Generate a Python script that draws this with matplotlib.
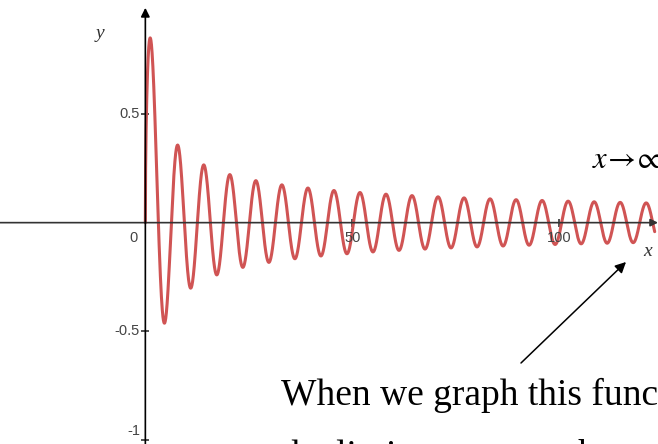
import numpy as np
import matplotlib
matplotlib.use("Agg")
import matplotlib.pyplot as plt

# curve: y = sin(x) / sqrt(x), decaying oscillation
x_start, x_end = 0.0, 123.0
y_ticks = [0.5, -0.5, -1]
y_tick_labels = ["0.5", "-0.5", "-1"]
x_ticks = [50, 100]
x_tick_labels = ["50", "100"]

W, H = 658, 444
fig = plt.figure(figsize=(W / 100, H / 100), dpi=100)
ax = fig.add_axes([0, 0, 1, 1])
ax.set_xlim(-35.1, 123.8)
ax.set_ylim(-1.02, 1.026)
ax.axis("off")

axis_col = "#333333"
label_col = "#444444"

# axes with arrowheads
ax.annotate("", xy=(123.8, 0), xytext=(-35.1, 0),
            arrowprops=dict(arrowstyle="-|>", color=axis_col, lw=1.2,
                            mutation_scale=11, shrinkA=0, shrinkB=0))
ax.annotate("", xy=(0, 0.99), xytext=(0, -1.02),
            arrowprops=dict(arrowstyle="-|>", color="black", lw=1.2,
                            mutation_scale=13, shrinkA=0, shrinkB=0))

# ticks and labels
ax.plot(np.zeros(len(y_ticks)), y_ticks, ls="none", marker="_", ms=6,
        mew=1.2, color=axis_col)
ax.plot(x_ticks, np.zeros(len(x_ticks)), ls="none", marker="|", ms=6,
        mew=1.2, color=axis_col)
ymin = ax.get_ylim()[0]
for yt, lab in zip(y_ticks, y_tick_labels):
    # keep the lowest label inside the view, sitting just above its tick
    if yt - ymin < 0.05:
        ax.text(-1.3, yt + 0.006, lab, ha="right", va="bottom", fontsize=10.5,
                color=label_col, family="Liberation Sans")
    else:
        ax.text(-1.3, yt, lab, ha="right", va="center", fontsize=10.5,
                color=label_col, family="Liberation Sans")
for xt, lab in zip(x_ticks, x_tick_labels):
    ax.text(xt, -0.037, lab, ha="center", va="top", fontsize=10.5,
            color=label_col, family="Liberation Sans")
ax.text(-1.8, -0.037, "0", ha="right", va="top", fontsize=10.5,
        color=label_col, family="Liberation Sans")

# the function
xs = np.linspace(x_start + 1e-6, x_end, 4000)
ys = np.sin(xs) / np.sqrt(xs)
ax.plot(np.r_[0, xs], np.r_[0, ys], color="#d05454", lw=2.2,
        solid_capstyle="round")

# axis names
fig.text(100 / W, 1 - 33 / H, "y", fontsize=14, style="italic",
         family="Liberation Serif", ha="center", va="center", color="#333333")
fig.text(648 / W, 1 - 252 / H, "x", fontsize=14, style="italic",
         family="Liberation Serif", ha="center", va="center", color="#333333")

# annotation text
fig.text(592 / W, 1 - 168 / H, r"$x\!\rightarrow\!\infty$", fontsize=22,
         ha="left", va="baseline", math_fontfamily="stix")
fig.text(281 / W, 1 - 405 / H, "When we graph this function,", fontsize=27,
         family="Liberation Serif", ha="left", va="baseline")
fig.text(281 / W, 1 - 466 / H, "the limit appears to be zero.", fontsize=27,
         family="Liberation Serif", ha="left", va="baseline")

fig.add_artist(matplotlib.patches.FancyArrowPatch(
    (521 / W, 1 - 363 / H), (626 / W, 1 - 262 / H),
    transform=fig.transFigure, arrowstyle="-|>", mutation_scale=16,
    color="black", lw=1.1, shrinkA=0, shrinkB=0))

fig.savefig("out.png", dpi=100)
